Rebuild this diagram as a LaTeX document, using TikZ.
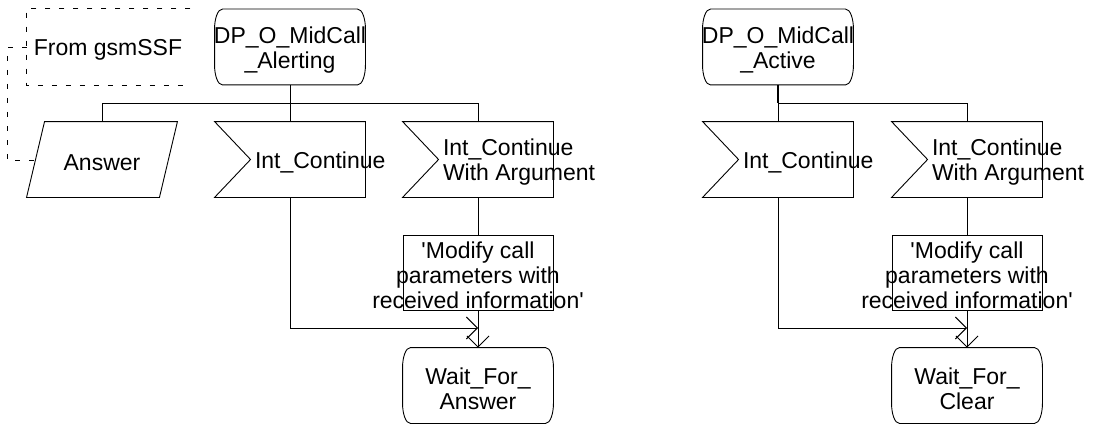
\documentclass[tikz,border=0pt]{standalone}
\usepackage{fontspec}
\newfontfamily\dfont{Liberation Sans}
\usetikzlibrary{arrows.meta,calc}
\begin{document}
\begin{tikzpicture}[x=1pt,y=-1pt,line width=0.9pt,
  base/.style={draw=none,minimum width=150pt,minimum height=75pt,inner sep=0pt},
  statebox/.style={base,append after command={\pgfextra{
     \draw ($(\tikzlastnode.north west)+(8,0)$) -- ($(\tikzlastnode.north east)+(-8,0)$)
       .. controls +(5,0) and +(0,-10) .. ($(\tikzlastnode.north east)+(0,20)$)
       -- ($(\tikzlastnode.south east)+(0,-20)$)
       .. controls +(0,10) and +(5,0) .. ($(\tikzlastnode.south east)+(-8,0)$)
       -- ($(\tikzlastnode.south west)+(8,0)$)
       .. controls +(-5,0) and +(0,10) .. ($(\tikzlastnode.south west)+(0,-20)$)
       -- ($(\tikzlastnode.north west)+(0,20)$)
       .. controls +(0,-10) and +(-5,0) .. ($(\tikzlastnode.north west)+(8,0)$) -- cycle;}}},
  inputbox/.style={base,append after command={\pgfextra{
     \draw (\tikzlastnode.north west) -- (\tikzlastnode.north east) -- (\tikzlastnode.south east)
       -- (\tikzlastnode.south west) -- ($(\tikzlastnode.west)+(36,0)$) -- cycle;}}},
  parabox/.style={base,append after command={\pgfextra{
     \draw ($(\tikzlastnode.north west)+(18,0)$) -- (\tikzlastnode.north east)
       -- ($(\tikzlastnode.south east)+(-18,0)$) -- (\tikzlastnode.south west) -- cycle;}}},
  taskbox/.style={base,draw},
  cmtbox/.style={base,minimum width=163pt,minimum height=76pt,append after command={\pgfextra{
     \draw[cline] (\tikzlastnode.north east) -- (\tikzlastnode.north west)
       -- (\tikzlastnode.south west) -- (\tikzlastnode.south east);}}},
  cline/.style={dash pattern=on 5pt off 9pt,line width=0.8pt},
  txt/.style={font=\dfont\fontsize{23}{25}\selectfont,inner sep=0pt,align=center,yshift=-3pt},
  intxt/.style={txt,anchor=west,align=left},
  arr/.style={-{Straight Barb[length=11pt,width=22pt]}}
]
\useasboundingbox (0,0) rectangle (1096,428);

% ---- left part ----
\node[cmtbox] (cmt) at (108.5,47) {};
\node[txt] (cmtt) at (108,47) {From gsmSSF};
\node[statebox] (s1) at (290,47) {};
\node[txt] (s1t) at (s1.center) {DP\_O\_MidCall\\\_Alerting};
\node[parabox] (ans) at (102,159.5) {};
\node[txt] (anst) at (ans.center) {Answer};
\node[inputbox] (in1) at (290,159.5) {};
\node[intxt] (in1t) at ($(in1.west)+(40,0)$) {Int\_Continue};
\node[inputbox] (in2) at (478,159.5) {};
\node[intxt] (in2t) at ($(in2.west)+(40,0)$) {Int\_Continue\\With Argument};
\node[taskbox] (task1) at (478,272.5) {};
\node[txt] (task1t) at (task1.center) {'Modify call\\parameters with\\received information'};
\node[statebox] (w1) at (478,385.5) {};
\node[txt] (w1t) at (w1.center) {Wait\_For\_\\Answer};

\coordinate (j1) at (290,103);
\coordinate (m1) at (478,328);
\draw (s1.south) -- (j1) -| (ans.north);
\draw (j1) -- (in1.north);
\draw (j1) -| (in2.north);
\draw (in2.south) -- (task1.north);
\draw[arr] (task1.south) -- (w1.north);
\draw[arr] (in1.south) |- (m1);
\draw[cline] (cmt.west) -- ++(-19,0) |- ($(ans.west)+(9,1)$);

% ---- right part ----
\node[statebox] (s2) at (778,47) {};
\node[txt] (s2t) at (s2.center) {DP\_O\_MidCall\\\_Active};
\node[inputbox] (in3) at (778,159.5) {};
\node[intxt] (in3t) at ($(in3.west)+(40,0)$) {Int\_Continue};
\node[inputbox] (in4) at (967,159.5) {};
\node[intxt] (in4t) at ($(in4.west)+(40,0)$) {Int\_Continue\\With Argument};
\node[taskbox] (task2) at (967,272.5) {};
\node[txt] (task2t) at (task2.center) {'Modify call\\parameters with\\received information'};
\node[statebox] (w2) at (967,385.5) {};
\node[txt] (w2t) at (w2.center) {Wait\_For\_\\Clear};

\coordinate (j2) at (778,103);
\coordinate (m2) at (967,328);
\draw[line width=1.8pt] (s2.south) -- (j2);
\draw (j2) -- (in3.north);
\draw (j2) -| (in4.north);
\draw (in4.south) -- (task2.north);
\draw[arr] (task2.south) -- (w2.north);
\draw[arr] (in3.south) |- (m2);
\end{tikzpicture}
\end{document}
